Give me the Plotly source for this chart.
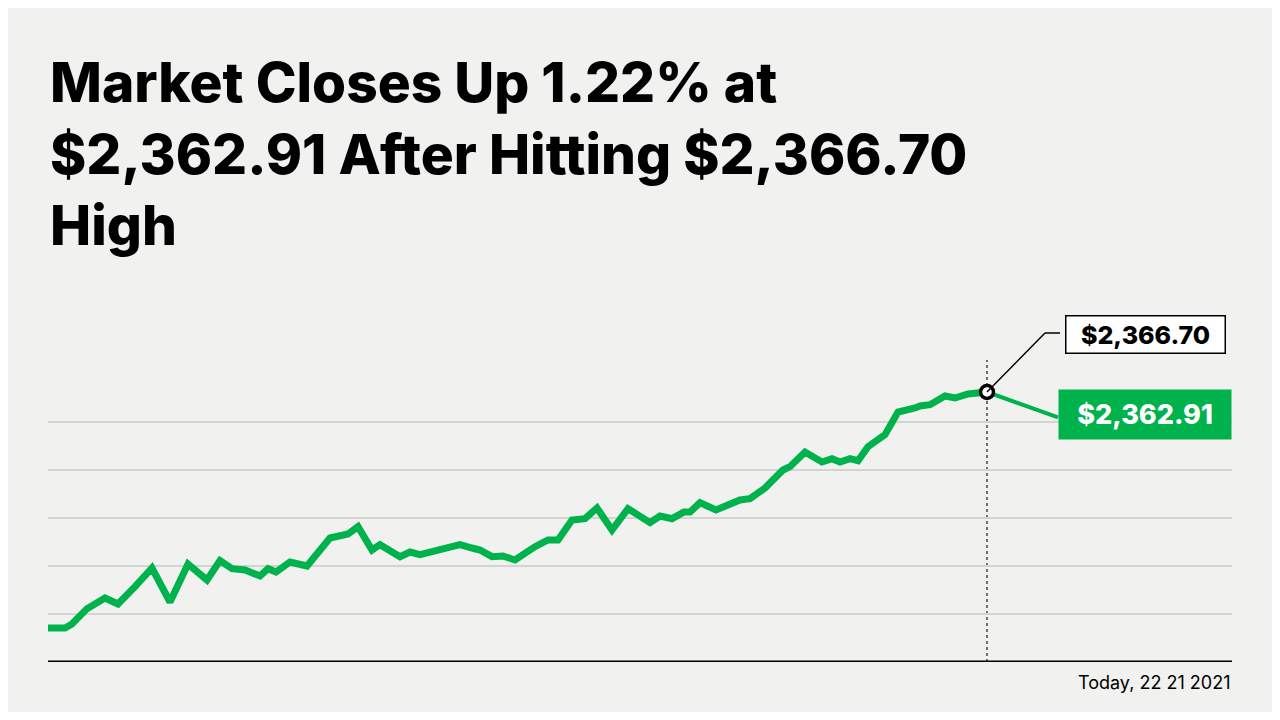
import plotly.graph_objects as go

# time ticks (arbitrary units from open) and prices
t = [0,17,24,39,57,70,87,104,122,140,159,172,184,197,212,220,228,242,259,282,300,310,324,332,352,362,372,392,412,424,432,444,455,467,477,487,500,510,524,537,549,564,580,602,612,624,636,642,652,668,692,702,717,735,742,757,774,784,792,802,810,820,837,850,867,872,882,897,907,920,939]
price = [2331.3,2331.3,2331.9,2334.2,2335.8,2334.9,2337.5,2340.3,2335.2,2340.9,2338.5,2341.4,2340.2,2340.0,2339.1,2340.2,2339.7,2341.2,2340.6,2344.8,2345.4,2346.5,2343.0,2343.8,2342.0,2342.7,2342.3,2343.0,2343.8,2343.3,2343.0,2342.0,2342.1,2341.5,2342.6,2343.5,2344.5,2344.5,2347.5,2347.7,2349.3,2346.0,2349.2,2347.1,2348.1,2347.7,2348.7,2348.7,2350.1,2349.0,2350.5,2350.7,2352.3,2355.0,2355.5,2357.7,2356.2,2356.7,2356.2,2356.7,2356.4,2358.5,2360.3,2363.7,2364.3,2364.6,2364.8,2366.1,2365.8,2366.4,2366.70]
close_t = [939, 1010]
close_p = [2366.70, 2362.91]
grid_vals = [2333.4, 2340.6, 2347.8, 2355.0, 2362.2]
title = "Market Closes Up 1.22% at<br>$2,362.91 After Hitting $2,366.70<br>High"
high_label = "$2,366.70"
close_label = "$2,362.91"
footer = "Today, 22 21 2021"

GREEN = "#00b24c"
fig = go.Figure()
fig.add_trace(go.Scatter(x=close_t, y=close_p, mode="lines", line=dict(color=GREEN, width=4)))
fig.add_trace(go.Scatter(x=t, y=price, mode="lines", line=dict(color=GREEN, width=7)))
fig.add_trace(go.Scatter(x=[t[-1]], y=[price[-1]], mode="markers",
                         marker=dict(size=13, color="white", line=dict(color="black", width=3.5))))

fig.add_shape(type="line", x0=t[-1], x1=t[-1], y0=2326.2, y1=2371.5,
              line=dict(color="#444", width=1.5, dash="dot"), layer="below")
fig.add_shape(type="line", x0=0, x1=1184, y0=2326.2, y1=2326.2, line=dict(color="black", width=3))
fig.add_shape(type="line", x0=t[-1], x1=997, y0=price[-1], y1=2375.55, line=dict(color="black", width=1.5))
fig.add_shape(type="line", x0=997, x1=1012, y0=2375.55, y1=2375.55, line=dict(color="black", width=1.5))

fig.add_annotation(x=1097, y=2375.3, text=high_label, showarrow=False, width=152,
                   font=dict(family="Inter", size=25, color="black", weight=800),
                   bgcolor="white", bordercolor="black", borderwidth=1.5, borderpad=3)
fig.add_annotation(x=1097, y=2363.4, text=close_label, showarrow=False, width=156,
                   font=dict(family="Inter", size=27, color="white", weight=800),
                   bgcolor=GREEN, borderpad=8)
fig.add_annotation(xref="paper", yref="paper", x=0, y=1, yshift=40, text=title,
                   showarrow=False, xanchor="left", yanchor="bottom", align="left",
                   font=dict(family="Inter", size=55, color="black", weight=800))
fig.add_annotation(xref="paper", yref="paper", x=1, y=0, yshift=-8, text=footer, showarrow=False,
                   xanchor="right", yanchor="top", font=dict(family="Inter", size=18, color="black"))

fig.update_layout(
    width=1264, height=704, showlegend=False,
    paper_bgcolor="#f1f1f0", plot_bgcolor="#f1f1f0",
    margin=dict(l=40, r=40, t=292, b=50),
    xaxis=dict(range=[0, 1184], visible=False),
    yaxis=dict(range=[2326.2, 2380.5], tickvals=grid_vals, showticklabels=False,
               gridcolor="#d3d3d3", gridwidth=1.5, zeroline=False, showline=False),
)
fig.write_html("out.html")
